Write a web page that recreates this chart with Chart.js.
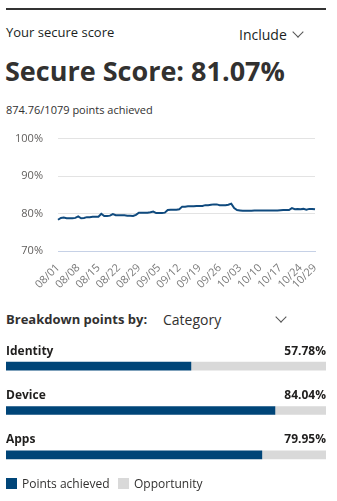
<!DOCTYPE html>
<html>
<head>
<meta charset="utf-8">
<script src="https://cdn.jsdelivr.net/npm/chart.js@4"></script>
<style>
  body { margin: 0; width: 337px; height: 501px; background: #fff; position: relative; overflow: hidden;
         font-family: "Open Sans", "Noto Sans", sans-serif; color: #201f1e; }
  .abs { position: absolute; white-space: nowrap; }
  #topline { left: 6px; top: 8px; width: 320px; height: 2px; background: #333; }
  .chev { display: inline-block; width: 7px; height: 7px; border-right: 1px solid #555; border-bottom: 1px solid #555;
          transform: rotate(45deg); }
  #lineWrap { left: 0; top: 125px; width: 337px; height: 180px; }
  #barWrap { left: 0; top: 341px; width: 337px; height: 136px; }
  .sw { display: inline-block; width: 11px; height: 11px; vertical-align: -1px; margin-right: 5px; }
</style>
</head>
<body>
<div class="abs" id="topline"></div>
<div class="abs" style="left:6px;top:23px;font-size:13px;">Your secure score</div>
<div class="abs" style="left:239px;top:25px;font-size:14px;">Include</div>
<div class="abs chev" style="left:294px;top:28px;"></div>
<div class="abs" style="left:5px;top:52px;font-size:27px;font-weight:700;color:#323130;">Secure Score: 81.07%</div>
<div class="abs" style="left:6px;top:102px;font-size:11px;color:#323130;">874.76/1079 points achieved</div>

<div class="abs" id="lineWrap"><canvas id="lineChart"></canvas></div>

<div class="abs" style="left:6px;top:310px;font-size:13px;font-weight:700;color:#323130;">Breakdown points by:</div>
<div class="abs" style="left:163px;top:310px;font-size:14px;color:#323130;">Category</div>
<div class="abs chev" style="left:277px;top:313px;"></div>

<div class="abs" id="barWrap"><canvas id="barChart"></canvas></div>

<div class="abs" style="left:6px;top:475px;font-size:12px;color:#323130;">
  <span class="sw" style="background:#004578"></span>Points achieved
</div>
<div class="abs" style="left:118px;top:475px;font-size:12px;color:#323130;">
  <span class="sw" style="background:#d9d9d9"></span>Opportunity
</div>

<script>
// score history, one value per day from 08/01 to 10/29
var scoreValues = [
  78.4, 78.9, 79.0, 78.8, 78.8, 78.8, 78.9, 79.3, 78.8, 78.9,
  79.1, 79.1, 79.2, 79.2, 79.2, 80.0, 79.4, 79.4, 79.5, 79.9,
  79.6, 79.6, 79.6, 79.6, 79.5, 79.5, 79.4, 79.7, 80.3, 80.3,
  80.3, 80.3, 80.4, 80.6, 80.2, 80.2, 80.2, 80.3, 81.0, 81.1,
  81.1, 81.1, 81.2, 81.9, 81.9, 82.0, 82.0, 82.0, 82.1, 82.1,
  82.1, 82.3, 82.3, 82.4, 82.5, 82.5, 82.3, 82.3, 82.3, 82.4,
  82.7, 81.5, 81.0, 80.9, 80.8, 80.8, 80.8, 80.8, 80.85, 80.85,
  80.85, 80.9, 80.9, 80.9, 80.9, 80.9, 80.9, 80.95, 81.0, 81.0,
  81.0, 81.5, 81.2, 81.3, 81.2, 81.3, 81.1, 81.3, 81.3, 81.2
];
var tickLabels = ["08/01", "08/08", "08/15", "08/22", "08/29", "09/05", "09/12",
  "09/19", "09/26", "10/03", "10/10", "10/17", "10/24", "10/29"];
var yTicks = [70, 80, 90, 100];

var categories = ["Identity", "Device", "Apps"];
var achieved = [57.78, 84.04, 79.95];
var legendLabels = ["Points achieved", "Opportunity"];

// build day labels 08/01 .. 10/29
var dayLabels = [];
var monthDays = [[8, 31], [9, 30], [10, 29]];
monthDays.forEach(function (md) {
  for (var d = 1; d <= md[1]; d++) {
    dayLabels.push("" + (md[0] < 10 ? "0" : "") + md[0] + "/" + (d < 10 ? "0" : "") + d);
  }
});

var fontFam = '"Open Sans", "Noto Sans", sans-serif';

new Chart(document.getElementById("lineChart"), {
  type: "line",
  data: {
    labels: dayLabels,
    datasets: [{
      data: scoreValues,
      borderColor: "#0f4a7e",
      borderWidth: 2,
      pointRadius: 0,
      tension: 0,
      fill: false
    }]
  },
  options: {
    responsive: true,
    maintainAspectRatio: false,
    animation: false,
    layout: { padding: { top: 13.7, right: 22, left: 0, bottom: 0 } },
    plugins: { legend: { display: false }, tooltip: { enabled: false } },
    scales: {
      x: {
        grid: { display: false },
        border: { color: "#c6d1e6" },
        afterFit: function (s) { s.height = 53.7; },
        ticks: {
          autoSkip: false,
          maxRotation: 45,
          minRotation: 45,
          padding: 2,
          color: "#7a7a7a",
          font: { family: fontFam, size: 11 },
          callback: function (v, i) {
            var l = dayLabels[i];
            return tickLabels.indexOf(l) >= 0 ? l : "";
          }
        }
      },
      y: {
        min: 70,
        max: 100,
        // fixed axis box so the plot lands where the reference has it
        afterFit: function (s) { s.width = 58; s.paddingTop = 0; s.paddingBottom = 0; },
        afterBuildTicks: function (s) { s.ticks = yTicks.map(function (v) { return { value: v }; }); },
        border: { display: false },
        grid: {
          drawTicks: false,
          color: function (c) { return c.tick && c.tick.value === 70 ? "#c6d1e6" : "#e3e3e3"; }
        },
        ticks: {
          padding: 15,
          color: "#605e5c",
          font: { family: fontFam, size: 11 },
          callback: function (v) { return v + "%"; }
        }
      }
    }
  }
});

// labels above each breakdown bar
var barLabelPlugin = {
  id: "barLabels",
  afterDatasetsDraw: function (chart) {
    var ctx = chart.ctx;
    var meta = chart.getDatasetMeta(0);
    ctx.save();
    ctx.fillStyle = "#201f1e";
    ctx.font = "bold 12px " + fontFam;
    ctx.textBaseline = "middle";
    meta.data.forEach(function (bar, i) {
      var y = bar.y - 15;
      ctx.textAlign = "left";
      ctx.fillText(categories[i], chart.chartArea.left, y);
      ctx.textAlign = "right";
      ctx.fillText(achieved[i].toFixed(2) + "%", chart.chartArea.right, y);
    });
    ctx.restore();
  }
};

new Chart(document.getElementById("barChart"), {
  type: "bar",
  data: {
    labels: categories,
    datasets: [
      { label: legendLabels[0], data: achieved, backgroundColor: "#004578", barThickness: 8 },
      { label: legendLabels[1], data: achieved.map(function (a) { return 100 - a; }), backgroundColor: "#d9d9d9", barThickness: 8 }
    ]
  },
  options: {
    indexAxis: "y",
    responsive: true,
    maintainAspectRatio: false,
    animation: false,
    layout: { padding: { top: 3, right: 11, left: 6, bottom: 0 } },
    plugins: { legend: { display: false }, tooltip: { enabled: false } },
    scales: {
      x: { stacked: true, min: 0, max: 100, display: false },
      y: { stacked: true, display: false }
    }
  },
  plugins: [barLabelPlugin]
});
</script>
</body>
</html>
